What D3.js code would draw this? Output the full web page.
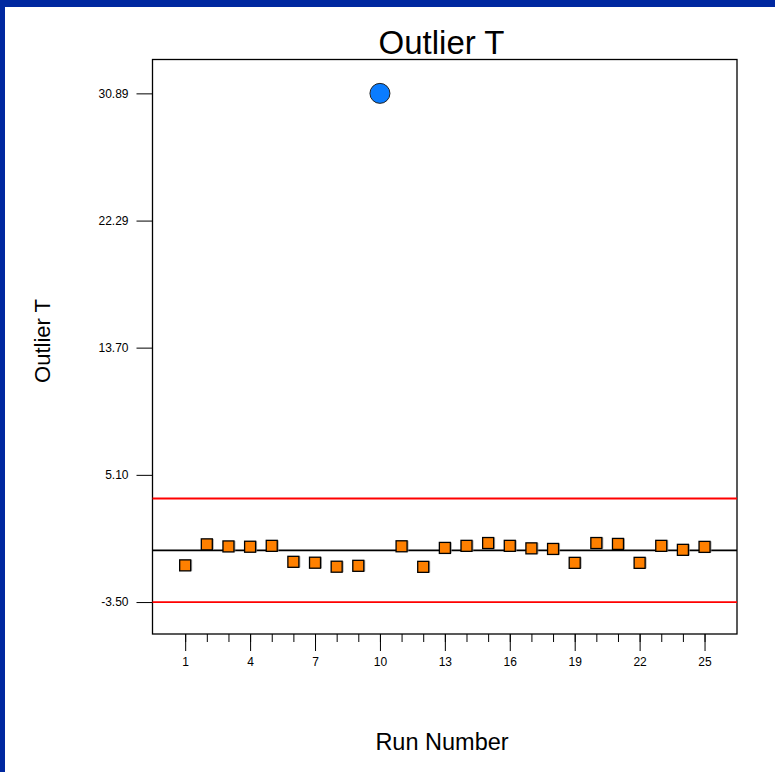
<!DOCTYPE html>
<html>
<head>
<meta charset="utf-8">
<script src="https://cdn.jsdelivr.net/npm/d3@7"></script>
<style>
  html, body { margin: 0; padding: 0; background: #fff; }
  svg { display: block; font-family: "Liberation Sans", Arial, sans-serif; }
</style>
</head>
<body>
<svg id="chart" width="775" height="772"></svg>
<script>
// Run order and externally studentized residuals (outlier t)
const runs = [1, 2, 3, 4, 5, 6, 7, 8, 9, 10, 11, 12, 13, 14, 15, 16, 17, 18, 19, 20, 21, 22, 23, 24, 25];
const outlierT = [-1.02, 0.40, 0.26, 0.24, 0.30, -0.78, -0.84, -1.11, -1.05, 30.89, 0.27, -1.12,
                  0.16, 0.30, 0.49, 0.30, 0.13, 0.09, -0.85, 0.49, 0.43, -0.85, 0.30, 0.03, 0.23];
const limits = [-3.5, 3.5];
const centerValue = [0];
const yTickValues = [-3.50, 5.10, 13.70, 22.29, 30.89];
const xMajorTicks = [1, 4, 7, 10, 13, 16, 19, 22, 25];
const xMinorTicks = runs;

const svg = d3.select("#chart");

// plot frame
const plotLeft = 152.5, plotRight = 737, plotTop = 59.5, plotBottom = 634;

const x = d3.scaleLinear().domain([-0.51, 26.5]).range([plotLeft, plotRight]);
const y = d3.scaleLinear().domain([-5.66, 33.18]).range([plotBottom, plotTop]);

// window border
svg.append("rect").attr("x", 0).attr("y", 0).attr("width", 775).attr("height", 7).attr("fill", "#0028a0");
svg.append("rect").attr("x", 0).attr("y", 0).attr("width", 5).attr("height", 772).attr("fill", "#0028a0");

// frame
svg.append("rect")
  .attr("x", plotLeft).attr("y", plotTop)
  .attr("width", plotRight - plotLeft).attr("height", plotBottom - plotTop)
  .attr("fill", "none").attr("stroke", "#000").attr("stroke-width", 1.3);

// y axis ticks and labels (plain hyphen for negatives)
const yAxis = d3.axisLeft(y)
  .tickValues(yTickValues)
  .tickSize(16)
  .tickPadding(8)
  .tickFormat(d => d.toFixed(2));
const gy = svg.append("g").attr("transform", `translate(${plotLeft},0)`).call(yAxis);
gy.select(".domain").remove();
gy.selectAll("line").attr("stroke", "#000");
gy.selectAll("text").attr("font-size", 12).attr("fill", "#000")
  .attr("font-family", "Liberation Sans, Arial, sans-serif");

// x axis: minor ticks for every run, longer labelled ticks every third run
const gxMinor = svg.append("g").attr("transform", `translate(0,${plotBottom})`)
  .call(d3.axisBottom(x).tickValues(xMinorTicks).tickSize(8).tickFormat(""));
gxMinor.select(".domain").remove();
gxMinor.selectAll("line").attr("stroke", "#000");

const gx = svg.append("g").attr("transform", `translate(0,${plotBottom})`)
  .call(d3.axisBottom(x).tickValues(xMajorTicks).tickSize(17).tickPadding(6).tickFormat(d => String(d)));
gx.select(".domain").remove();
gx.selectAll("line").attr("stroke", "#000");
gx.selectAll("text").attr("font-size", 12).attr("fill", "#000")
  .attr("font-family", "Liberation Sans, Arial, sans-serif");

// control limits
svg.append("g").selectAll("line.limit").data(limits).join("line")
  .attr("class", "limit")
  .attr("x1", plotLeft).attr("x2", plotRight)
  .attr("y1", d => y(d)).attr("y2", d => y(d))
  .attr("stroke", "#ff0000").attr("stroke-width", 1.8);

// center line
svg.append("g").selectAll("line.center").data(centerValue).join("line")
  .attr("class", "center")
  .attr("x1", plotLeft).attr("x2", plotRight)
  .attr("y1", d => y(d)).attr("y2", d => y(d))
  .attr("stroke", "#000").attr("stroke-width", 1.8);

const points = runs.map((r, i) => ({ run: r, value: outlierT[i] }));
const inside = points.filter(p => p.value >= limits[0] && p.value <= limits[1]);
const outside = points.filter(p => p.value < limits[0] || p.value > limits[1]);

const sq = 11;
// soft shadow behind squares
svg.append("g").selectAll("rect").data(inside).join("rect")
  .attr("x", d => x(d.run) - sq / 2 + 1.5)
  .attr("y", d => y(d.value) - sq / 2)
  .attr("width", sq).attr("height", sq)
  .attr("fill", "#8a8a8a").attr("opacity", 0.7);

svg.append("g").selectAll("rect").data(inside).join("rect")
  .attr("x", d => x(d.run) - sq / 2)
  .attr("y", d => y(d.value) - sq / 2)
  .attr("width", sq).attr("height", sq)
  .attr("fill", "#ff8000").attr("stroke", "#000").attr("stroke-width", 1.3);

svg.append("g").selectAll("circle").data(outside).join("circle")
  .attr("cx", d => x(d.run))
  .attr("cy", d => y(d.value))
  .attr("r", 10)
  .attr("fill", "#0a7cff").attr("stroke", "#222").attr("stroke-width", 1);

// titles
svg.append("text")
  .attr("x", 441.5).attr("y", 54)
  .attr("text-anchor", "middle")
  .attr("font-size", 33)
  .attr("fill", "#000")
  .text("Outlier T");

svg.append("text")
  .attr("transform", "translate(50,341) rotate(-90)")
  .attr("text-anchor", "middle")
  .attr("font-size", 22)
  .attr("fill", "#000")
  .text("Outlier T");

svg.append("text")
  .attr("x", 442).attr("y", 750)
  .attr("text-anchor", "middle")
  .attr("font-size", 23.5)
  .attr("fill", "#000")
  .text("Run Number");
</script>
</body>
</html>
